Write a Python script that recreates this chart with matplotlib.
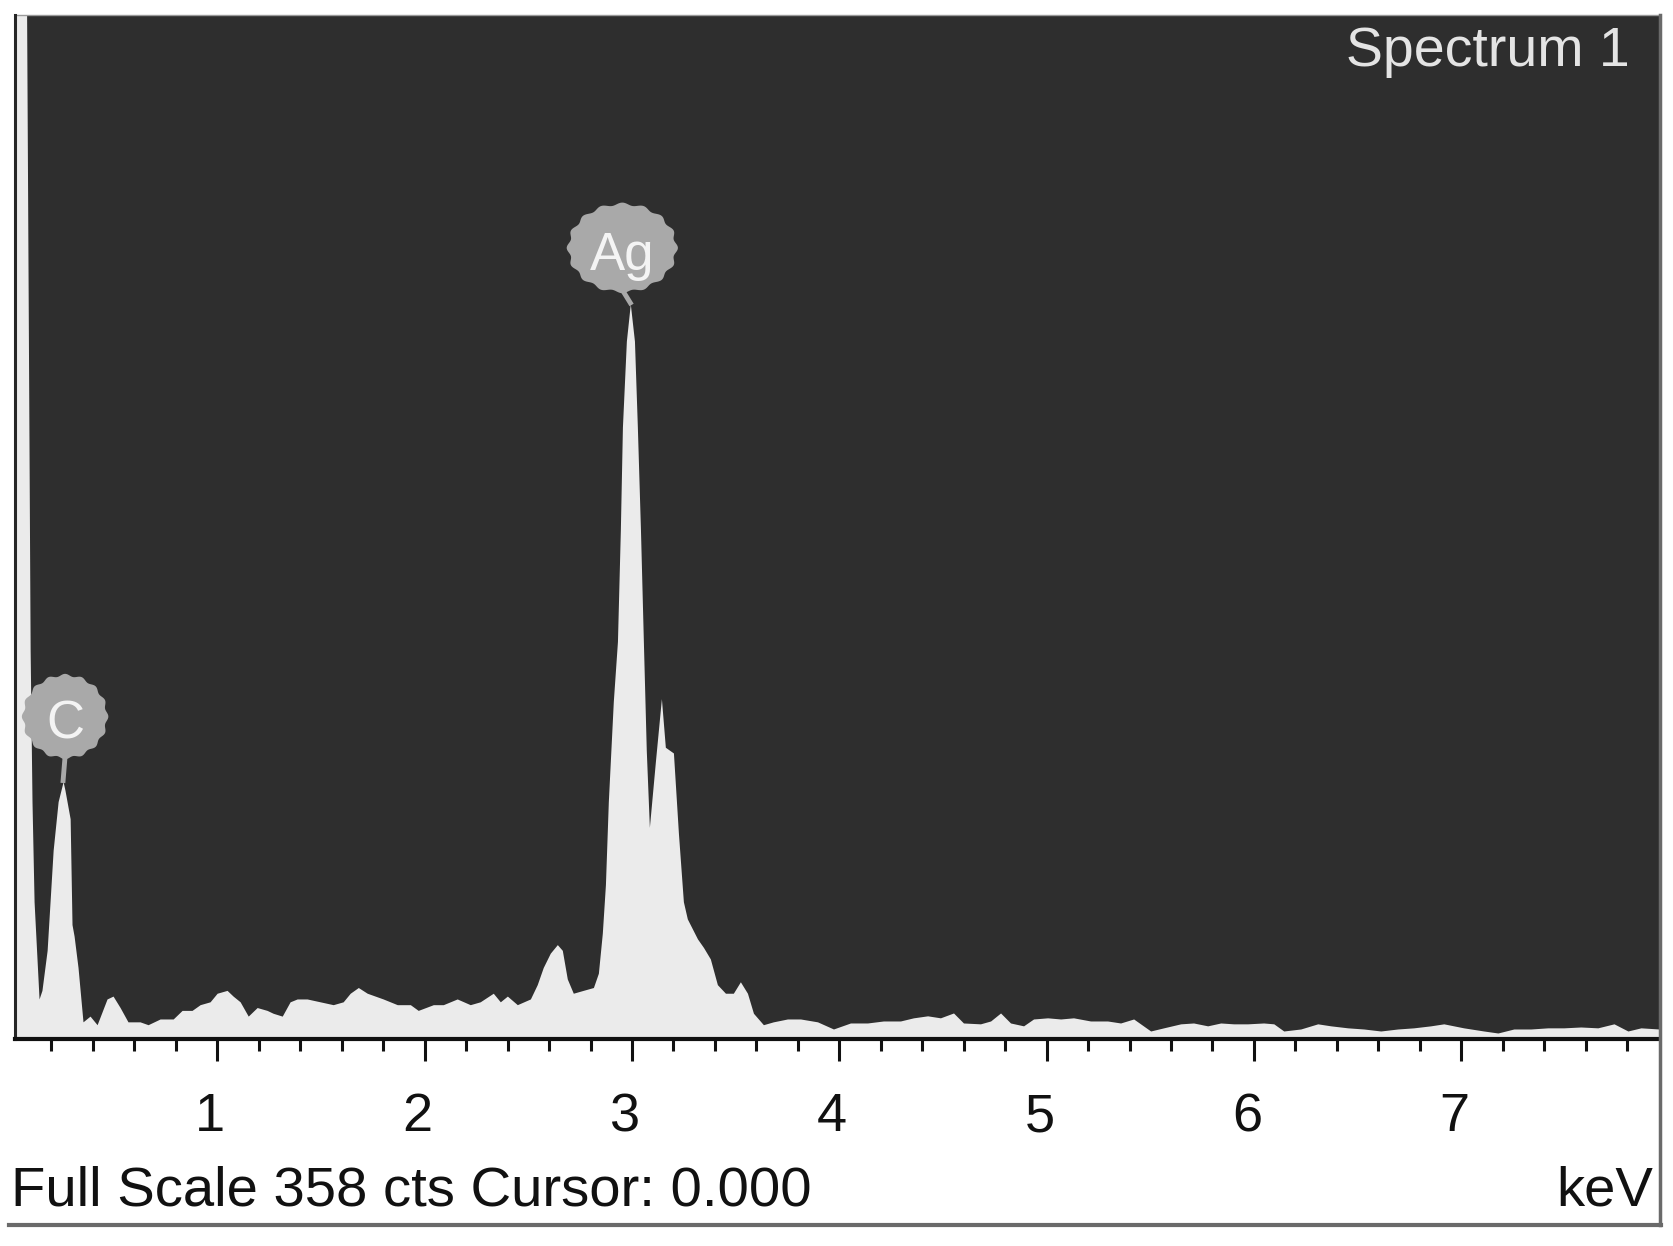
import numpy as np
import matplotlib
matplotlib.use('Agg')
import matplotlib.pyplot as plt
from matplotlib.patches import Polygon
from matplotlib.lines import Line2D
from matplotlib.transforms import IdentityTransform, ScaledTranslation, blended_transform_factory

plt.rcParams['font.family'] = ['Liberation Sans', 'DejaVu Sans']

# EDS spectrum (keV, counts); the 0 keV strobe peak is clipped at full scale
energy_kev = [
    0.000, 0.075, 0.080, 0.097, 0.106, 0.116, 0.140, 0.154, 0.179, 0.208,
    0.232, 0.256, 0.265, 0.290, 0.299, 0.309, 0.328, 0.352, 0.386, 0.420,
    0.468, 0.497, 0.531, 0.569, 0.627, 0.666, 0.724, 0.787, 0.830, 0.878,
    0.917, 0.965, 0.999, 1.047, 1.076, 1.110, 1.149, 1.192, 1.240, 1.269,
    1.313, 1.351, 1.385, 1.433, 1.496, 1.559, 1.607, 1.641, 1.680, 1.723,
    1.800, 1.868, 1.931, 1.969, 2.042, 2.090, 2.157, 2.220, 2.268, 2.331,
    2.365, 2.399, 2.447, 2.510, 2.543, 2.572, 2.606, 2.640, 2.664, 2.688,
    2.717, 2.765, 2.814, 2.838, 2.857, 2.872, 2.886, 2.910, 2.930, 2.944,
    2.954, 2.973, 2.992, 3.012, 3.026, 3.041, 3.055, 3.069, 3.084, 3.113,
    3.142, 3.161, 3.200, 3.224, 3.248, 3.267, 3.316, 3.345, 3.378,
    3.412, 3.451, 3.489, 3.523, 3.557, 3.586, 3.634, 3.682, 3.750, 3.813,
    3.895, 3.972, 4.054, 4.136, 4.213, 4.295, 4.358, 4.426, 4.488, 4.551,
    4.599, 4.681, 4.730, 4.778, 4.826, 4.889, 4.937, 5.005, 5.068, 5.130,
    5.212, 5.294, 5.357, 5.420, 5.502, 5.565, 5.647, 5.709, 5.777, 5.840,
    5.902, 5.970, 6.047, 6.096, 6.144, 6.226, 6.308, 6.371, 6.453, 6.530,
    6.612, 6.694, 6.771, 6.853, 6.916, 7.012, 7.109, 7.177, 7.254, 7.336,
    7.418, 7.495, 7.577, 7.659, 7.737, 7.804, 7.867, 7.954,
]
counts = [
    400, 400, 358, 136, 83, 48, 14, 17, 31, 66,
    83, 90, 87, 77, 40, 36, 25, 6, 8, 5,
    14, 15, 11, 6, 6, 5, 7, 7, 10, 10,
    12, 13, 16, 17, 15, 13, 8, 11, 10, 9,
    8, 13, 14, 14, 13, 12, 13, 16, 18, 16,
    14, 12, 12, 10, 12, 12, 14, 12, 13, 16,
    13, 15, 12, 14, 19, 25, 30, 33, 31, 21,
    16, 17, 18, 23, 37, 54, 83, 118, 139, 178,
    214, 244, 257, 244, 214, 178, 139, 101, 74, 97,
    119, 102, 100, 72, 48, 42, 35, 32, 28,
    19, 16, 16, 20, 16, 9, 5, 6, 7, 7,
    6, 3.5, 5.6, 5.6, 6.3, 6.3, 7.4, 8.1, 7.4, 9.1,
    5.6, 5.3, 6.3, 9.1, 5.6, 4.6, 7.0, 7.4, 7.0, 7.4,
    6.3, 6.3, 5.6, 7.0, 2.8, 3.9, 5.3, 5.6, 4.6, 5.6,
    5.3, 5.3, 5.6, 5.3, 2.8, 3.5, 5.3, 4.6, 3.9, 3.5,
    2.8, 3.5, 3.9, 4.6, 5.3, 3.9, 2.8, 2.1, 3.5, 3.5,
    3.9, 3.9, 4.2, 3.9, 5.3, 2.8, 3.9, 3.5,
]

peak_labels = ['C', 'Ag']
peak_energy = [0.256, 2.992]
peak_counts = [90, 257]

full_scale = 358
cursor_kev = 0.000
spectrum_name = 'Spectrum 1'
major_ticks = [1, 2, 3, 4, 5, 6, 7]

W, H = 1674, 1246
fig = plt.figure(figsize=(W / 100, H / 100), dpi=100)
fig.patch.set_facecolor('white')

def fx(px):
    return px / W

def fy(py):
    return 1 - py / H

ax = fig.add_axes([fx(15), fy(1039), fx(1659 - 15), (1039 - 15) / H])
ax.set_facecolor('#2e2e2e')
ax.fill_between(energy_kev, counts, 0, color='#ebebeb', lw=0, zorder=2)
ax.set_xlim(0.024, 7.954)
ax.set_ylim(0, full_scale)

for side in ['top', 'right']:
    ax.spines[side].set_visible(False)
ax.spines['left'].set_color('#262626')
ax.spines['left'].set_linewidth(2.2)
ax.spines['bottom'].set_color('#111111')
ax.spines['bottom'].set_linewidth(3.0)

ax.set_xticks(major_ticks)
ax.set_xticks(np.arange(0.2, 7.9, 0.2), minor=True)
ax.tick_params(axis='x', which='major', direction='out', length=16, width=2.2,
               color='#111111', labelbottom=False)
ax.tick_params(axis='x', which='minor', direction='out', length=8.5, width=2.2,
               color='#111111')
ax.tick_params(axis='y', left=False, labelleft=False)

# tick labels sit a little left of their ticks in the original
lab_trans = blended_transform_factory(ax.transData, fig.transFigure) + \
    ScaledTranslation(-0.07, 0, fig.dpi_scale_trans)
for t in major_ticks:
    ax.text(t, fy(1131), str(t), transform=lab_trans, ha='center', va='baseline',
            fontsize=39, color='#111111', clip_on=False)

fig.text(fx(11), fy(1206), f'Full Scale {full_scale} cts Cursor: {cursor_kev:.3f}',
         ha='left', va='baseline', fontsize=40.5, color='#111111')
fig.text(fx(1653), fy(1206), 'keV', ha='right', va='baseline', fontsize=40.5, color='#111111')
fig.text(fx(1630), fy(66), spectrum_name, ha='right', va='baseline', fontsize=40,
         color='#e4e4e4')

# outer frame: right edge down to the bottom rule
fig.add_artist(Line2D([fx(1660), fx(1660)], [fy(15), fy(1225)], color='#6a6a6a', lw=2.5))
fig.add_artist(Line2D([fx(9), fx(1661)], [fy(1225), fy(1225)], color='#6a6a6a', lw=3))
ax.plot([0, 1], [1, 1], transform=ax.transAxes, color='#9a9a9a', lw=1, clip_on=False)

# element bubbles
bubble_style = {
    'C': dict(dx=2, dy=65, w=84, h=83),
    'Ag': dict(dx=-8, dy=56, w=108, h=88),
}
fig.canvas.draw()
theta = np.linspace(0, 2 * np.pi, 240)
for name, e, c in zip(peak_labels, peak_energy, peak_counts):
    st = bubble_style[name]
    px, py = ax.transData.transform((e, c))
    cx, cy = px + st['dx'], py + st['dy']
    wob = 1 + 0.03 * np.cos(16 * theta)
    verts = np.column_stack([cx + st['w'] / 2 * wob * np.cos(theta),
                             cy + st['h'] / 2 * wob * np.sin(theta)])
    ax.add_patch(Polygon(verts, closed=True, transform=IdentityTransform(),
                         facecolor='#a9a9a9', edgecolor='none', clip_on=False, zorder=5))
    ax.add_line(Line2D([cx, px], [cy - st['h'] / 2 + 2, py + 1], transform=IdentityTransform(),
                       color='#a9a9a9', lw=3.5, clip_on=False, zorder=5))
    ax.text(cx, cy - 22, name, transform=IdentityTransform(), ha='center', va='baseline',
            fontsize=38, color='#f4f4f4', zorder=6, clip_on=False)

fig.savefig('out.png', dpi=100, facecolor='white')
